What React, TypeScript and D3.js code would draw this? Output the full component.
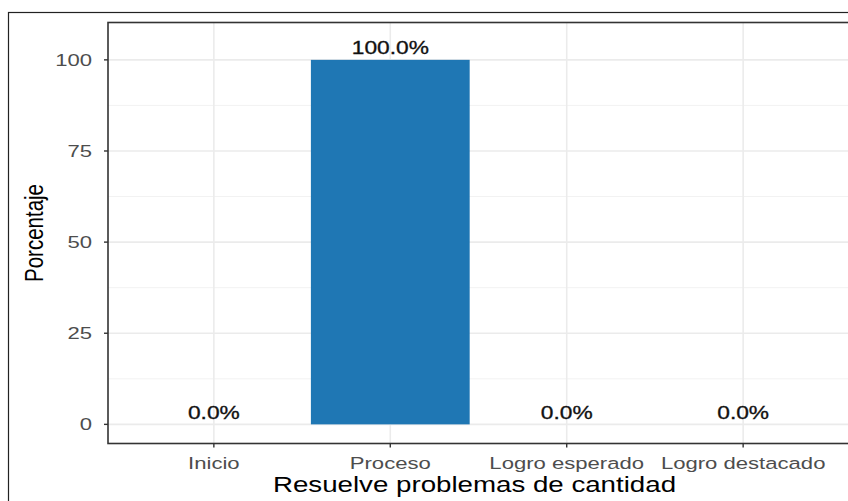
import React from "react";
import * as d3 from "d3";

const categories = ["Inicio", "Proceso", "Logro esperado", "Logro destacado"];
const values = [0, 100, 0, 0];
const yTicks = [0, 25, 50, 75, 100];
const yMinor = [12.5, 37.5, 62.5, 87.5];
const xTitle = "Resuelve problemas de cantidad";
const yTitle = "Porcentaje";

const W = 848;
const H = 501;
const SX = 1.3;
const FONT = "Liberation Sans, Arial, sans-serif";

export default function App() {
  const panel = { left: 108, right: 849, top: 22.5, bottom: 443.5 };
  const x = d3
    .scalePoint<string>()
    .domain(categories)
    .range([panel.left, panel.right])
    .padding(0.6);
  const step = x.step();
  const y = d3.scaleLinear().domain([-5.25, 110.25]).range([panel.bottom, panel.top]);
  const barW = step * 0.9;

  const T = (props: any) => {
    const { x: tx, y: ty, rot, children, ...rest } = props;
    return (
      <text
        transform={`translate(${tx},${ty}) scale(${SX},1)${rot ? ` rotate(${rot})` : ""}`}
        fontFamily={FONT}
        {...rest}
      >
        {children}
      </text>
    );
  };

  return (
    <svg
      width={W}
      height={H}
      style={{ position: "absolute", left: 0, top: 0, background: "#fff" }}
    >
      <rect x={8.5} y={12.5} width={W + 20} height={H + 20} fill="#fff" stroke="#222" strokeWidth={1.2} />
      {/* grid */}
      {yMinor.map((v) => (
        <line key={"m" + v} x1={panel.left} x2={panel.right} y1={y(v)} y2={y(v)} stroke="#F2F2F2" strokeWidth={1} />
      ))}
      {yTicks.map((v) => (
        <line key={"g" + v} x1={panel.left} x2={panel.right} y1={y(v)} y2={y(v)} stroke="#EBEBEB" strokeWidth={1.6} />
      ))}
      {categories.map((c) => (
        <line key={"v" + c} x1={x(c)} x2={x(c)} y1={panel.top} y2={panel.bottom} stroke="#EBEBEB" strokeWidth={1.6} />
      ))}
      {/* bars */}
      {categories.map((c, i) => (
        <rect
          key={"b" + c}
          x={(x(c) as number) - barW / 2}
          width={barW}
          y={y(Math.max(values[i], 0))}
          height={Math.abs(y(0) - y(values[i]))}
          fill="#1F77B4"
        />
      ))}
      {/* value labels */}
      {categories.map((c, i) => (
        <T
          key={"l" + c}
          x={x(c)}
          y={y(values[i]) - 5.5}
          textAnchor="middle"
          fontSize={17.5}
          fill="#111"
          stroke="#111"
          strokeWidth={0.3}
        >
          {values[i].toFixed(1) + "%"}
        </T>
      ))}
      {/* panel border */}
      <rect
        x={panel.left}
        y={panel.top}
        width={panel.right - panel.left}
        height={panel.bottom - panel.top}
        fill="none"
        stroke="#333"
        strokeWidth={1.6}
      />
      {/* y axis */}
      {yTicks.map((v) => (
        <g key={"yt" + v}>
          <line x1={panel.left - 4} x2={panel.left} y1={y(v)} y2={y(v)} stroke="#333" strokeWidth={1.4} />
          <T x={panel.left - 16} y={y(v) + 6} textAnchor="end" fontSize={17} fill="#4D4D4D">
            {v}
          </T>
        </g>
      ))}
      {/* x axis */}
      {categories.map((c) => (
        <g key={"xt" + c}>
          <line x1={x(c)} x2={x(c)} y1={panel.bottom} y2={panel.bottom + 4} stroke="#333" strokeWidth={1.4} />
          <T x={x(c)} y={469} textAnchor="middle" fontSize={17} fill="#4D4D4D">
            {c}
          </T>
        </g>
      ))}
      <T x={(panel.left + panel.right) / 2 - 4} y={492} textAnchor="middle" fontSize={21.3} fill="#000">
        {xTitle}
      </T>
      <T x={43} y={233} rot={-90} textAnchor="middle" fontSize={20.5} fill="#000">
        {yTitle}
      </T>
    </svg>
  );
}
